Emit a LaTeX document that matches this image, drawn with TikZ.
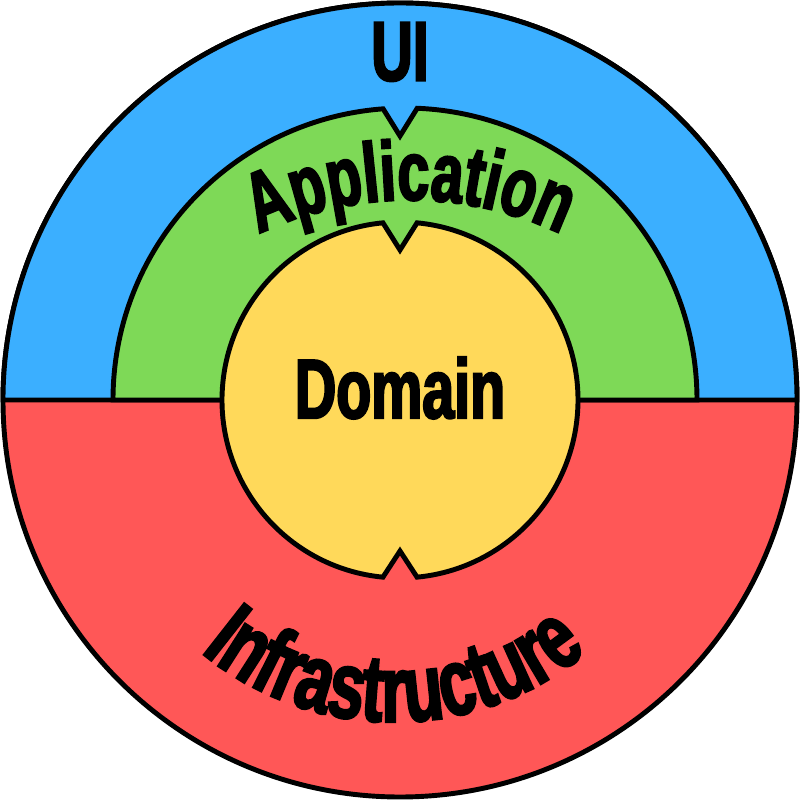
\documentclass[tikz,border=0pt]{standalone}
\usepackage{fontspec}
\usepackage{tikz}
\usetikzlibrary{decorations.text, calc}
\newfontfamily\layerfam[FakeStretch=0.68,FakeBold=2.5]{Liberation Sans Bold}
\newcommand{\layertype}{\layerfam\fontsize{24pt}{24pt}\selectfont}
\newcommand{\outertype}{\layerfam\fontsize{27pt}{27pt}\selectfont}
\definecolor{cUI}{HTML}{3BAFFF}
\definecolor{cAPP}{HTML}{7ED957}
\definecolor{cDOM}{HTML}{FFD95A}
\definecolor{cINFRA}{HTML}{FF5757}
\tikzset{
  layer/.style={
    draw=black, line width=1.4pt,
    line join=miter,
    fill=#1
  },
  layerlabel/.style={
    font=\layertype,
    text=black,
    inner sep=0pt
  },
  curvedlabel/.style 2 args={
    decorate,
    decoration={text along path, text align=center, text={|#1|#2}}
  }
}

\begin{document}
\begin{tikzpicture}
  \useasboundingbox (-4,-4) rectangle (4,4);

  \path[layer=cINFRA] (0,0) circle (3.97);
  \path[layer=cUI] (3.97,0) arc (0:180:3.97) -- cycle;
  \path[layer=cAPP] (0.05,0) ++(180:2.92) arc (180:94.3:2.92) -- (0,2.64)
    -- ($(0.05,0)+(87.6:2.92)$) arc (87.6:0:2.92) -- cycle;
  \path[layer=cDOM] (84.5:1.78) arc (84.5:-84.5:1.78) -- (0,-1.51)
    -- (264.5:1.78) arc (264.5:95.5:1.78) -- (0,1.5) -- cycle;

  \node[layerlabel] (ui) at (0,3.48) {UI};
  \node[layerlabel] (domain) at (0,0.12) {Domain};
  \path[curvedlabel={\layertype}{Application}] (0.1,-1.52) ++(130:3.52) arc (130:50:3.52);
  \path[curvedlabel={\outertype}{Infrastructure}] (-0.06,-0.2) ++(215:3.02) arc (215:325:3.02);
\end{tikzpicture}
\end{document}
